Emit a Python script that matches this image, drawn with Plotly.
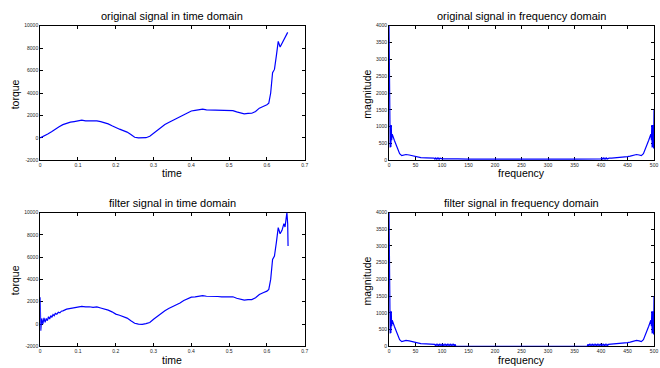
import plotly.graph_objects as go

# ---------------- data ----------------
t_orig = [0, 0.01, 0.02, 0.03, 0.04, 0.05, 0.06, 0.07, 0.08, 0.09, 0.10, 0.11, 0.12, 0.13, 0.14,
          0.15, 0.16, 0.17, 0.18, 0.19, 0.20, 0.21, 0.22, 0.23, 0.24, 0.25, 0.26, 0.27, 0.28, 0.29,
          0.30, 0.31, 0.32, 0.33, 0.34, 0.35, 0.36, 0.37, 0.38, 0.39, 0.40, 0.41, 0.42, 0.43, 0.44,
          0.45, 0.46, 0.47, 0.48, 0.49, 0.50, 0.51, 0.52, 0.53, 0.54, 0.55, 0.56, 0.57, 0.58, 0.59,
          0.60, 0.605, 0.61, 0.615, 0.62, 0.625, 0.63, 0.635, 0.64, 0.645, 0.65, 0.655]
torque_orig = [0, 150, 350, 550, 800, 1000, 1180, 1320, 1400, 1460, 1520, 1580, 1520, 1540, 1500,
               1520, 1450, 1350, 1250, 1080, 900, 780, 650, 520, 300, 60, 0, -20, 20, 150,
               420, 700, 1000, 1200, 1380, 1550, 1720, 1900, 2100, 2280, 2400, 2450, 2500, 2560, 2500,
               2490, 2470, 2460, 2450, 2440, 2450, 2430, 2320, 2200, 2150, 2180, 2200, 2350, 2650, 2800,
               2950, 3100, 4000, 5800, 6100, 7300, 8600, 8100, 8400, 8800, 9100, 9400]

t_filt = [0, 0.0015, 0.004, 0.007, 0.010, 0.013, 0.016, 0.019, 0.022, 0.025, 0.028, 0.031, 0.034,
          0.037, 0.040, 0.044, 0.048, 0.052, 0.056, 0.06, 0.07, 0.08, 0.09, 0.10, 0.11, 0.12, 0.13,
          0.14, 0.15, 0.16, 0.17, 0.18, 0.19, 0.20, 0.21, 0.22, 0.23, 0.24, 0.25, 0.26, 0.27, 0.28,
          0.29, 0.30, 0.31, 0.32, 0.33, 0.34, 0.35, 0.36, 0.37, 0.38, 0.39, 0.40, 0.41, 0.42, 0.43,
          0.44, 0.45, 0.46, 0.47, 0.48, 0.49, 0.50, 0.51, 0.52, 0.53, 0.54, 0.55, 0.56, 0.57, 0.58,
          0.59, 0.60, 0.605, 0.61, 0.615, 0.62, 0.625, 0.63, 0.635, 0.64, 0.645, 0.648, 0.651,
          0.653, 0.655, 0.656]
torque_filt = [2400, -600, 500, 0, 550, 150, 500, 300, 650, 450, 750, 600, 850,
               750, 950, 880, 1050, 1000, 1150, 1180, 1330, 1390, 1470, 1510, 1590, 1530, 1550,
               1490, 1530, 1440, 1360, 1240, 1090, 890, 790, 640, 530, 290, 70, -10, -30, 30,
               140, 430, 690, 1010, 1190, 1390, 1540, 1730, 1890, 2110, 2270, 2410, 2440, 2510, 2550,
               2490, 2500, 2460, 2470, 2440, 2450, 2440, 2440, 2310, 2210, 2140, 2190, 2190, 2360, 2640,
               2810, 2950, 3100, 4000, 5800, 6100, 7300, 8650, 8100, 8400, 9000, 8700, 9500,
               10000, 9000, 7000]

f_orig = [0, 0.7, 1.4, 2.1, 2.8, 3.5, 4.2, 4.9, 6, 10, 15, 20, 24, 28, 32, 38, 45, 50, 55, 60,
          70, 80, 85, 86.5, 88, 89.5, 91, 92.5, 94, 95.5, 97, 100, 110, 130, 150, 200, 250, 300,
          350, 400, 401.5, 403, 404.5, 406, 407.5, 409, 410.5, 412, 415, 420, 430, 440, 450, 455,
          460, 467, 472, 476, 480, 485, 490, 494, 495.1, 495.8, 496.5, 497.2, 497.9, 498.6, 499.3,
          500]
mag_orig = [4000, 400, 1050, 380, 1050, 400, 1050, 600, 780, 600, 400, 200, 140, 160, 175, 160,
            130, 115, 95, 80, 75, 65, 70, 40, 70, 40, 70, 40, 70, 40, 65, 45, 50, 45, 40, 35, 40,
            35, 40, 45, 70, 40, 70, 40, 70, 40, 70, 40, 65, 65, 75, 80, 110, 125, 150, 175, 160,
            140, 200, 380, 600, 780, 600, 1050, 380, 1050, 400, 1050, 350, 1500]

f_filt = [0, 0.7, 1.4, 2.1, 2.8, 3.5, 4.2, 4.9, 6, 10, 15, 20, 24, 28, 32, 38, 45, 50, 55, 60,
          70, 80, 86, 87.5, 89, 90.5, 92, 93.5, 95, 96.5, 98, 99.5, 101, 102.5, 104, 105.5, 107,
          108.5, 110, 111.5, 113, 114.5, 116, 117.5, 119, 120.5, 122, 123.5, 125, 126, 374, 375,
          376.5, 378, 379.5, 381, 382.5, 384, 385.5, 387, 388.5, 390, 391.5, 393, 394.5, 396,
          397.5, 399, 400.5, 402, 403.5, 405, 406.5, 408, 409.5, 411, 412.5, 414, 420, 430, 440,
          450, 455, 460, 467, 472, 476, 480, 485, 490, 494, 495.1, 495.8, 496.5, 497.2, 497.9,
          498.6, 499.3, 500]
mag_filt = [4000, 400, 1050, 380, 1050, 400, 1050, 600, 780, 600, 400, 200, 140, 160, 175, 160,
            130, 115, 95, 80, 75, 65, 60, 25, 60, 25, 60, 25, 60, 25, 60, 25, 60, 25, 60, 25, 60,
            25, 60, 25, 60, 25, 60, 25, 60, 25, 60, 25, 55, 0, 0, 55, 25, 60, 25, 60, 25, 60, 25,
            60, 25, 60, 25, 60, 25, 60, 25, 60, 25, 60, 25, 60, 25, 60, 25, 60, 25, 60, 65, 75,
            80, 110, 125, 150, 175, 160, 140, 200, 380, 600, 780, 600, 1050, 380, 1050, 400, 1050,
            350, 1500]

titles = ["original signal in time domain", "original signal in frequency domain",
          "filter signal in time domain", "filter signal in frequency domain"]
time_ticks = [0, 0.1, 0.2, 0.3, 0.4, 0.5, 0.6, 0.7]
time_labels = ["0", "0.1", "0.2", "0.3", "0.4", "0.5", "0.6", "0.7"]
torque_ticks = [-2000, 0, 2000, 4000, 6000, 8000, 10000]
torque_labels = ["-2000", "0", "2000", "4000", "6000", "8000", "10000"]
freq_ticks = [0, 50, 100, 150, 200, 250, 300, 350, 400, 450, 500]
freq_labels = ["0", "50", "100", "150", "200", "250", "300", "350", "400", "450", "500"]
mag_ticks = [0, 500, 1000, 1500, 2000, 2500, 3000, 3500, 4000]
mag_labels = ["0", "500", "1000", "1500", "2000", "2500", "3000", "3500", "4000"]

# ---------------- figure ----------------
W, H = 660, 368
FONT = "Liberation Sans, Arial, sans-serif"
BLUE = "#0000ff"

def px_x(a, b):
    return [a / W, b / W]

def px_y(top, bottom):
    return [1 - bottom / H, 1 - top / H]

fig = go.Figure()
fig.add_trace(go.Scatter(x=t_orig, y=torque_orig, mode="lines", line=dict(color=BLUE, width=1.2),
                         xaxis="x", yaxis="y", showlegend=False))
fig.add_trace(go.Scatter(x=f_orig, y=mag_orig, mode="lines", line=dict(color=BLUE, width=1.2),
                         xaxis="x2", yaxis="y2", showlegend=False))
fig.add_trace(go.Scatter(x=t_filt, y=torque_filt, mode="lines", line=dict(color=BLUE, width=1.2),
                         xaxis="x3", yaxis="y3", showlegend=False))
fig.add_trace(go.Scatter(x=f_filt, y=mag_filt, mode="lines", line=dict(color=BLUE, width=1.2),
                         xaxis="x4", yaxis="y4", showlegend=False))

tickfont = dict(family=FONT, size=5, color="#222")
common = dict(showgrid=False, zeroline=False, showline=True, linecolor="black", linewidth=1,
              mirror="ticks", ticks="inside", ticklen=3, tickcolor="black", tickfont=tickfont,
              layer="below traces")

L1, R1 = 39.5, 306
L2, R2 = 391, 658
T1, B1 = 23, 160
T2, B2 = 213, 349

fig.update_layout(
    width=W, height=H, margin=dict(l=0, r=0, t=0, b=0),
    paper_bgcolor="white", plot_bgcolor="white",
    xaxis=dict(domain=px_x(L1, R1), range=[0, 0.7], tickvals=time_ticks, ticktext=time_labels,
               anchor="y", **common),
    yaxis=dict(domain=px_y(T1, B1), range=[-2000, 10000], tickvals=torque_ticks,
               ticktext=torque_labels, anchor="x", **common),
    xaxis2=dict(domain=px_x(L2, R2), range=[0, 500], tickvals=freq_ticks, ticktext=freq_labels,
                anchor="y2", **common),
    yaxis2=dict(domain=px_y(T1, B1), range=[0, 4000], tickvals=mag_ticks, ticktext=mag_labels,
                anchor="x2", **common),
    xaxis3=dict(domain=px_x(L1, R1), range=[0, 0.7], tickvals=time_ticks, ticktext=time_labels,
                anchor="y3", **common),
    yaxis3=dict(domain=px_y(T2, B2), range=[-2000, 10000], tickvals=torque_ticks,
                ticktext=torque_labels, anchor="x3", **common),
    xaxis4=dict(domain=px_x(L2, R2), range=[0, 500], tickvals=freq_ticks, ticktext=freq_labels,
                anchor="y4", **common),
    yaxis4=dict(domain=px_y(T2, B2), range=[0, 4000], tickvals=mag_ticks, ticktext=mag_labels,
                anchor="x4", **common),
)

ann = []
def text(x, y, s, size, angle=0):
    ann.append(dict(x=x / W, y=1 - y / H, xref="paper", yref="paper", text=s, showarrow=False,
                    xanchor="center", yanchor="middle", textangle=angle,
                    font=dict(family=FONT, size=size, color="black")))

text((L1 + R1) / 2, 13, titles[0], 11)
text((L2 + R2) / 2, 13, titles[1], 11)
text((L1 + R1) / 2, 203, titles[2], 11)
text((L2 + R2) / 2, 203, titles[3], 11)
text((L1 + R1) / 2, 173, "time", 10.5)
text((L2 + R2) / 2, 173, "frequency", 10.5)
text((L1 + R1) / 2, 363, "time", 10.5)
text((L2 + R2) / 2, 363, "frequency", 10.5)
text(15, 93, "torque", 10.5, -90)
text(15, 282, "torque", 10.5, -90)
text(369, 93, "magnitude", 10.5, -90)
text(369, 283, "magnitude", 10.5, -90)
fig.update_layout(annotations=ann)

fig.write_html("out.html")
